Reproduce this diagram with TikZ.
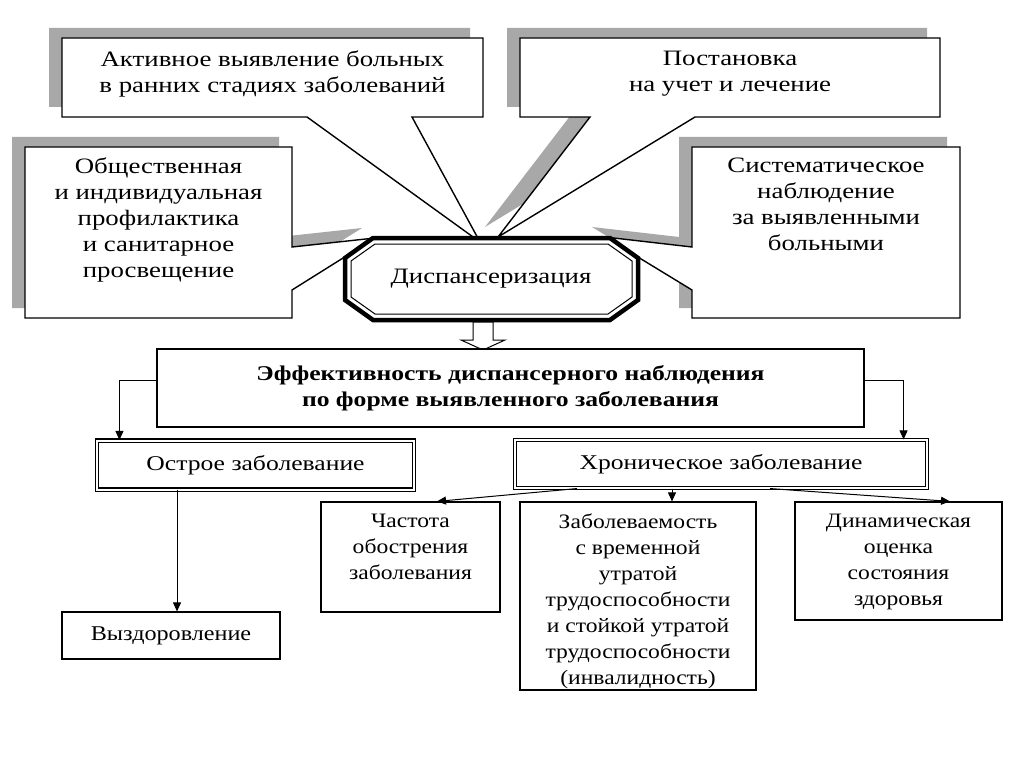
\documentclass[tikz,border=0pt]{standalone}
\usepackage{fontspec}
\setmainfont{Liberation Serif}[FakeStretch=1.22]
\newfontfamily\lowfont{Liberation Serif}[FakeStretch=1.15]
\usetikzlibrary{arrows.meta,calc}
\definecolor{shd}{RGB}{168,168,168}
\tikzset{
  shadowfill/.style={fill=shd,draw=none},
  callout/.style={fill=white,draw=black,line width=1.4pt,line join=miter},
  topfont/.style={font=\fontsize{22}{26}\selectfont,align=center,inner sep=0pt},
  lowtext/.style={font=\lowfont\fontsize{20.5}{26}\selectfont,align=center,inner sep=0pt},
  plainbox/.style={draw=black,line width=1.2pt,fill=white,inner sep=0pt},
  dblbox/.style={draw=black,double=white,double distance=2pt,line width=1.1pt,fill=white,inner sep=0pt},
  arr/.style={line width=1pt,-{Triangle[length=9pt,width=8pt]}},
}
\begin{document}
\begin{tikzpicture}[x=1pt,y=-1pt]
\useasboundingbox[fill=white] (0,0) rectangle (1024,767);

% ---- shadows of the callouts
\begin{scope}[shift={(-13,-10)}]
  \fill[shadowfill] (62,38) -- (483,38) -- (483,117) -- (412,117) -- (480,242) -- (307,117) -- (62,117) -- cycle;
  \fill[shadowfill] (520,38) -- (940,38) -- (940,117) -- (695,117) -- (498,237) -- (590,117) -- (520,117) -- cycle;
  \fill[shadowfill] (25,147) -- (292,147) -- (292,247) -- (375,238) -- (292,290) -- (292,318) -- (25,318) -- cycle;
  \fill[shadowfill] (692,147) -- (960,147) -- (960,318) -- (692,318) -- (692,290) -- (605,237) -- (692,247) -- cycle;
\end{scope}

% ---- callouts
\draw[callout] (62,38) -- (483,38) -- (483,117) -- (412,117) -- (480,242) -- (307,117) -- (62,117) -- cycle;
\draw[callout] (520,38) -- (940,38) -- (940,117) -- (695,117) -- (498,237) -- (590,117) -- (520,117) -- cycle;
\draw[callout] (25,147) -- (292,147) -- (292,247) -- (375,238) -- (292,290) -- (292,318) -- (25,318) -- cycle;
\draw[callout] (692,147) -- (960,147) -- (960,318) -- (692,318) -- (692,290) -- (605,237) -- (692,247) -- cycle;

\node[topfont,anchor=north] (ta) at (272.5,51) {Активное выявление больных\\в ранних стадиях заболеваний};
\node[topfont,anchor=north] (tb) at (730,51) {Постановка\\на учет и лечение};
\node[topfont,anchor=north] (tc) at (158.5,158) {Общественная\\и индивидуальная\\профилактика\\и санитарное\\просвещение};
\node[topfont,anchor=north] (td) at (826,158) {Систематическое\\наблюдение\\за выявленными\\больными};

% ---- central octagon
\draw[fill=white,line width=4.5pt,line join=miter]
  (373,238) -- (610,238) -- (638,258) -- (638,300) -- (610,320) -- (373,320) -- (345,300) -- (345,258) -- cycle;
\draw[line width=1pt,line join=miter]
  (375,244) -- (608,244) -- (632,261) -- (632,297) -- (608,314) -- (375,314) -- (351,297) -- (351,261) -- cycle;
\node[topfont] (disp) at (491,279) {Диспансеризация};

% ---- hollow arrow
\draw[fill=white,line width=1pt,line join=miter]
  (473,322) -- (493,322) -- (493,340) -- (505,340) -- (483,350) -- (461,340) -- (473,340) -- cycle;

% ---- efficiency box
\node[plainbox,minimum width=707pt,minimum height=78pt,
      font=\bfseries\fontsize{21}{26}\selectfont,align=center] (eff) at (510.5,388)
  {Эффективность диспансерного наблюдения\\по форме выявленного заболевания};

% ---- acute / chronic
\node[dblbox,minimum width=317pt,minimum height=49pt,font=\fontsize{21}{26}\selectfont] (ostr) at (255.5,465) {Острое заболевание};
\node[dblbox,minimum width=412pt,minimum height=48pt,font=\fontsize{21}{26}\selectfont] (chr) at (721,464) {Хроническое заболевание};

\draw[arr] ([yshift=8pt]eff.west) -| ([xshift=23pt]ostr.north west);
\draw[arr] ([yshift=8pt]eff.east) -| ([xshift=-24pt]chr.north east);

% ---- bottom boxes
\node[plainbox,minimum width=218pt,minimum height=47pt,font=\lowfont\fontsize{21}{26}\selectfont] (vyz) at (171,635.5) {Выздоровление};
\node[plainbox,minimum width=179pt,minimum height=110pt] (chast) at (410.5,557) {};
\node[plainbox,minimum width=236pt,minimum height=188pt] (zab) at (638,596) {};
\node[plainbox,minimum width=207pt,minimum height=118pt] (din) at (898.5,561) {};

\node[lowtext,anchor=north] (tchast) at ([yshift=-12pt]chast.north) {Частота\\обострения\\заболевания};
\node[lowtext,anchor=north] (tzab) at ([yshift=-12pt]zab.north) {Заболеваемость\\с временной\\утратой\\трудоспособности\\и стойкой утратой\\трудоспособности\\(инвалидность)};
\node[lowtext,anchor=north] (tdin) at ([yshift=-12pt]din.north) {Динамическая\\оценка\\состояния\\здоровья};

\draw[arr] ([xshift=6pt]vyz.north |- ostr.south) -- ([xshift=6pt]vyz.north);
\draw[arr] ([xshift=-144pt]chr.south) -- ([xshift=26.5pt]chast.north);
\draw[arr] ([xshift=-49pt]chr.south) -- ([xshift=34pt]zab.north);
\draw[arr] ([xshift=49pt]chr.south) -- ([xshift=51.5pt]din.north);
\end{tikzpicture}
\end{document}
